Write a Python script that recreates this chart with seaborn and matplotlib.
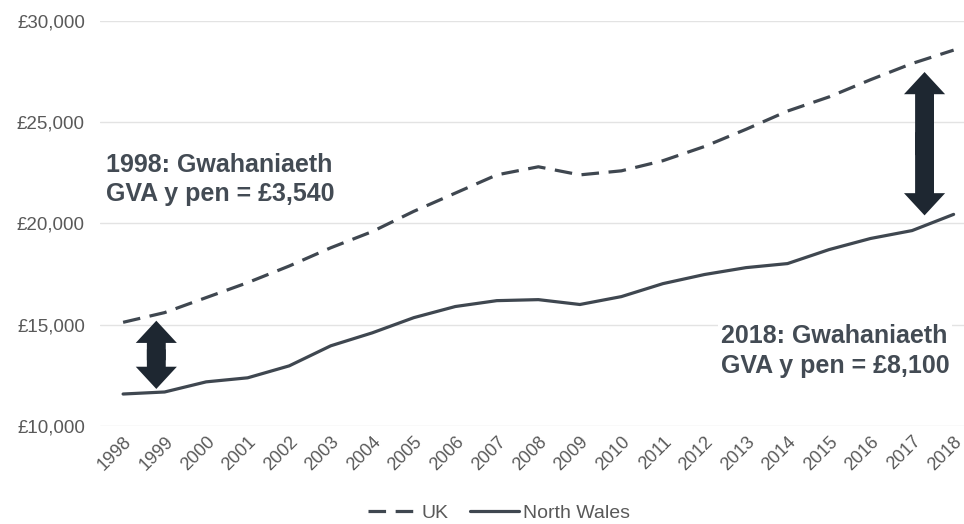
import pandas as pd
import matplotlib
matplotlib.use('Agg')
import matplotlib.pyplot as plt
import seaborn as sns

# GVA per head (£)
years = list(range(1998, 2019))
uk = [15120, 15600, 16340, 17080, 17900, 18800, 19600, 20600, 21500, 22400, 22800,
      22400, 22600, 23100, 23800, 24650, 25550, 26250, 27100, 27900, 28560]
north_wales = [11580, 11680, 12180, 12380, 12970, 13960, 14600, 15350, 15900, 16190, 16240,
               16000, 16390, 17030, 17480, 17820, 18020, 18710, 19260, 19650, 20450]

df = pd.DataFrame({
    'year': years * 2,
    'gva': uk + north_wales,
    'region': ['UK'] * len(years) + ['North Wales'] * len(years),
})

sns.set_style('white')
plt.rcParams['font.family'] = ['Liberation Sans', 'DejaVu Sans']

fig = plt.figure(figsize=(9.64, 5.24), dpi=100)
ax = fig.add_axes([0.104, 0.187, 0.896, 0.773])

line_col = '#3f4750'
sns.lineplot(data=df, x='year', y='gva', style='region', ax=ax,
             color=line_col, linewidth=2.3,
             dashes={'UK': (5.5, 3), 'North Wales': ''},
             style_order=['UK', 'North Wales'])

ax.set_xlim(1997.45, 2018.25)
ax.set_ylim(10000, 30000)
ax.set_yticks(range(10000, 30001, 5000))
ax.set_yticklabels([f'£{v:,}' for v in range(10000, 30001, 5000)])
ax.set_xticks(years)
ax.set_xticklabels([str(y) for y in years], rotation=45, ha='right', rotation_mode='anchor')
ax.tick_params(axis='both', colors='#595959', labelsize=13, length=0)
ax.tick_params(axis='y', labelsize=13.5, pad=11)
ax.tick_params(axis='x', pad=5)
ax.yaxis.grid(True, color='#e3e3e3', linewidth=1)
ax.set_axisbelow(True)
for s in ax.spines.values():
    s.set_visible(False)
ax.set_xlabel('')
ax.set_ylabel('')

# gap arrows, two overlapping halves
arrow_col = '#1e2731'
def double_arrow(x, y0, y1):
    mid = (y0 + y1) / 2
    overlap = (y0 - y1) * 0.08
    for end, start in ((y0, mid - overlap), (y1, mid + overlap)):
        ax.annotate('', xy=(x, end), xytext=(x, start),
                    arrowprops=dict(arrowstyle='simple,head_width=1.85,head_length=1.0,tail_width=0.85',
                                    color=arrow_col, lw=0, shrinkA=0, shrinkB=0,
                                    mutation_scale=16))

double_arrow(1998.8, 15200, 11830)
double_arrow(2017.3, 27480, 20400)

txt_col = '#434b54'
ax.text(1997.6, 22180, '1998: Gwahaniaeth\nGVA y pen = £3,540', fontsize=18,
        fontweight='bold', color=txt_col, ha='left', va='center', linespacing=1.28,
        bbox=dict(facecolor='white', edgecolor='none', pad=2))
ax.text(2012.4, 13700, '2018: Gwahaniaeth\nGVA y pen = £8,100', fontsize=18,
        fontweight='bold', color=txt_col, ha='left', va='center', linespacing=1.28,
        bbox=dict(facecolor='white', edgecolor='none', pad=2))

leg = ax.legend(loc='center', bbox_to_anchor=(0.462, -0.215), ncol=2, frameon=False,
                fontsize=14, handlelength=2.5, columnspacing=1.1, handletextpad=0.25)
for t in leg.get_texts():
    t.set_color('#595959')

fig.savefig('out.png', dpi=100)
